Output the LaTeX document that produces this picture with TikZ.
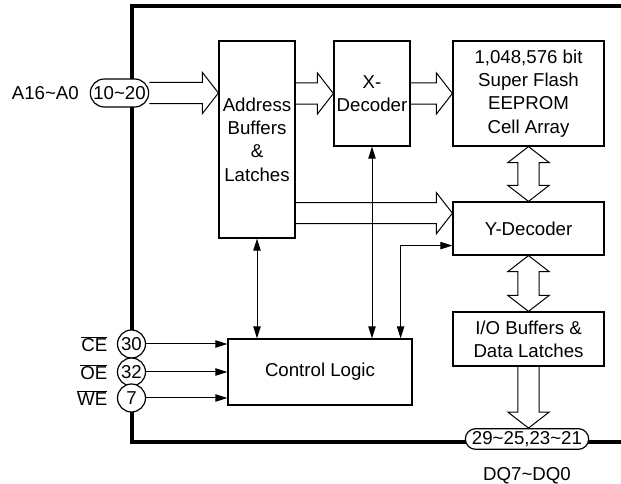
\documentclass[tikz,border=0pt]{standalone}
\usepackage{fontspec}
\setmainfont{Liberation Sans}
\usepackage{tikz}
\usetikzlibrary{positioning, arrows.meta, calc, shapes.misc}

% wide bus arrows
\newcommand{\fatright}[2]{%
  \draw[line width=0.75pt] let \p1=#1, \p2=#2 in
    (\x1,\y1+7.9pt) -- (\x2-12pt,\y1+7.9pt) -- (\x2-12pt,\y1+15.4pt) -- (\x2,\y1)
    -- (\x2-12pt,\y1-15.4pt) -- (\x2-12pt,\y1-7.9pt) -- (\x1,\y1-7.9pt);}
\newcommand{\fatdown}[2]{%
  \draw[line width=0.75pt] let \p1=#1, \p2=#2 in
    (\x1+8pt,\y1) -- (\x1+8pt,\y2+12pt) -- (\x1+15.5pt,\y2+12pt) -- (\x1,\y2)
    -- (\x1-15.5pt,\y2+12pt) -- (\x1-8pt,\y2+12pt) -- (\x1-8pt,\y1);}
\newcommand{\fatboth}[2]{%
  \draw[line width=0.75pt] let \p1=#1, \p2=#2 in
    (\x1,\y1) -- (\x1+15.5pt,\y1-12pt) -- (\x1+8pt,\y1-12pt) -- (\x1+8pt,\y2+12pt)
    -- (\x1+15.5pt,\y2+12pt) -- (\x1,\y2) -- (\x1-15.5pt,\y2+12pt) -- (\x1-8pt,\y2+12pt)
    -- (\x1-8pt,\y1-12pt) -- (\x1-15.5pt,\y1-12pt) -- cycle;}

\begin{document}
\begin{tikzpicture}[x=0.75pt, y=-0.75pt,
    every node/.style={font=\fontsize{14}{17.5}\selectfont},
    blk/.style={draw, line width=0.9pt, inner sep=1pt, align=center},
    pinpill/.style={draw, fill=white, line width=0.9pt, rounded rectangle,
                    inner sep=1pt, minimum height=21pt},
    pinball/.style={draw, fill=white, line width=0.9pt, circle,
                    inner sep=0pt, minimum size=21pt},
    sig/.style={line width=0.75pt, -{Triangle[length=9pt,width=5.5pt]}},
    sigboth/.style={line width=0.75pt,
                    {Triangle[length=9pt,width=5.5pt]}-{Triangle[length=9pt,width=5.5pt]}}]
  \useasboundingbox (0,0) rectangle (621,484);

  % chip outline
  \draw[line width=3pt] (621,6) -- (131.5,6) -- (131.5,442) -- (621,442);

  % blocks
  \node[blk, minimum width=57pt, minimum height=147.75pt] (addr) at (257,139.5)
        {Address\\Buffers\\\&\\Latches};
  \node[blk, minimum width=57pt, minimum height=78.75pt] (xdec) at (372,93.5)
        {X-\\Decoder};
  \node[blk, minimum width=113.25pt, minimum height=78.75pt] (cell) at (528.5,93.5)
        {1,048,576 bit\\Super Flash\\EEPROM\\Cell Array};
  \node[blk, minimum width=113.25pt, minimum height=39.75pt] (ydec) at (528.5,228.5)
        {Y-Decoder};
  \node[blk, minimum width=113.25pt, minimum height=40.5pt] (iobuf) at (528.5,339)
        {I/O Buffers \&\\Data Latches};
  \node[blk, minimum width=138pt, minimum height=49.5pt] (ctrl) at (320,372)
        {Control Logic};

  % pins
  \node[pinpill, minimum width=45.75pt] (pinA) at (119.5,93) {10\textasciitilde 20};
  \node[pinpill, minimum width=94.5pt, minimum height=15.5pt] (pinD) at (527,439)
        {29\textasciitilde 25,23\textasciitilde 21};
  \node[pinball] (pce) at (131.5,344) {30};
  \node[pinball] (poe) at (131.5,372) {32};
  \node[pinball] (pwe) at (131.5,398) {7};

  \node[left=8pt of pinA, inner sep=0pt] (lblA) {A16\textasciitilde A0};
  \node[left=7pt of pce, inner sep=0pt] (lblce) {$\overline{\mbox{CE}}$};
  \node[left=7pt of poe, inner sep=0pt] (lbloe) {$\overline{\mbox{OE}}$};
  \node[left=7pt of pwe, inner sep=0pt] (lblwe) {$\overline{\mbox{WE}}$};
  \node[below=13pt of pinD, inner sep=0pt] (lblD) {DQ7\textasciitilde DQ0};

  % buses
  \coordinate (ytip) at ([yshift=11.5pt]ydec.west);
  \fatright{(pinA.east)}{(addr.west |- pinA.east)}
  \fatright{(addr.east |- xdec.west)}{(xdec.west)}
  \fatright{(xdec.east)}{(cell.west)}
  \fatright{(addr.east |- ytip)}{(ytip)}
  \fatboth{(cell.south)}{(ydec.north)}
  \fatboth{(ydec.south)}{(iobuf.north)}
  \fatdown{(iobuf.south)}{(iobuf.south |- pinD.north)}

  % control signals
  \draw[sig] (pce.east) -- (pce -| ctrl.west);
  \draw[sig] (poe.east) -- (poe -| ctrl.west);
  \draw[sig] (pwe.east) -- (pwe -| ctrl.west);
  \draw[sigboth] (addr.south) -- (addr.south |- ctrl.north);
  \draw[sigboth] (xdec.south) -- (xdec.south |- ctrl.north);
  \draw[sigboth] ([yshift=7.5pt]ydec.south west) -| ([xshift=-9pt]ctrl.north east);
\end{tikzpicture}
\end{document}
